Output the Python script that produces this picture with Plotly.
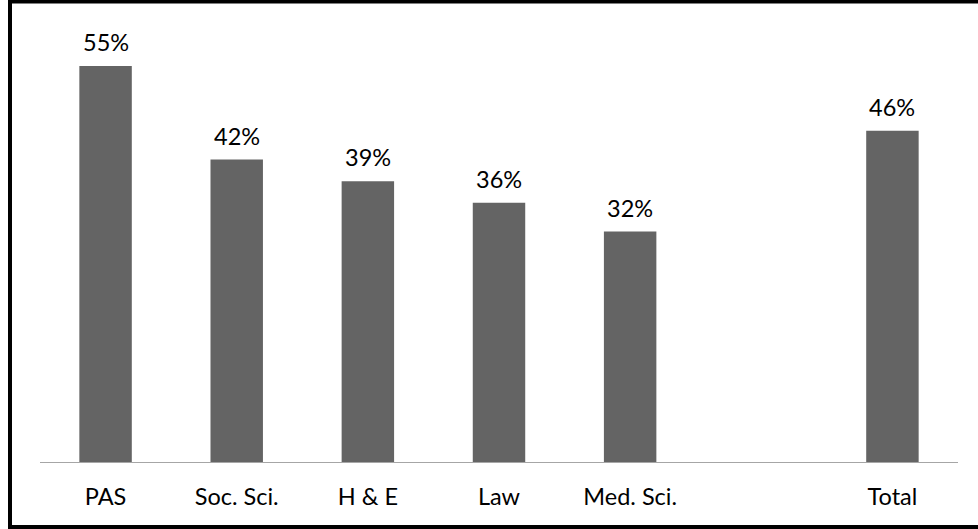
import plotly.graph_objects as go

categories = ["PAS", "Soc. Sci.", "H & E", "Law", "Med. Sci.", " ", "Total"]
values = [55, 42, 39, 36, 32, None, 46]
labels = ["55%", "42%", "39%", "36%", "32%", "", "46%"]

W, H = 978, 529
L, R, T, B = 40, 20, 10, 67
plot_w = W - L - R
plot_h = H - T - B
FS = 23.5

fig = go.Figure()
fig.add_trace(go.Bar(
    x=categories, y=values,
    marker=dict(color="#646464", line=dict(width=0)),
    hoverinfo="skip",
))

for c, v, t in zip(categories, values, labels):
    if v is None:
        continue
    fig.add_annotation(x=c, y=v, text=t, showarrow=False, yanchor="bottom",
                       yshift=8, font=dict(family="Lato", size=FS, color="#000000"))

def px_x(px):
    return (px - L) / plot_w

def px_y(py):
    return (H - B - py) / plot_h

# outer border (left, top, bottom visible)
fig.add_shape(type="line", xref="paper", yref="paper",
              x0=px_x(10), x1=px_x(10), y0=px_y(-5), y1=px_y(535),
              line=dict(color="#000000", width=4))
fig.add_shape(type="line", xref="paper", yref="paper",
              x0=px_x(8), x1=px_x(990), y0=px_y(1.5), y1=px_y(1.5),
              line=dict(color="#000000", width=4))
fig.add_shape(type="line", xref="paper", yref="paper",
              x0=px_x(8), x1=px_x(990), y0=px_y(527), y1=px_y(527),
              line=dict(color="#000000", width=4))

fig.update_layout(
    width=W, height=H,
    margin=dict(l=L, r=R, t=T, b=B),
    paper_bgcolor="#ffffff", plot_bgcolor="#ffffff",
    bargap=0.6,
    showlegend=False,
    font=dict(family="Lato", size=FS, color="#000000"),
    xaxis=dict(type="category", categoryorder="array", categoryarray=categories,
               showline=True, linecolor="#a6a6a6", linewidth=1,
               showgrid=False, zeroline=False, ticks="", ticklabelstandoff=14,
               tickfont=dict(family="Lato", size=FS, color="#000000")),
    yaxis=dict(range=[0, plot_h / 7.2], visible=False, showgrid=False, zeroline=False),
)

fig.write_html("out.html",
               config={"displayModeBar": False, "staticPlot": True},
               post_script="document.body.style.margin='0';document.body.style.overflow='hidden';")
